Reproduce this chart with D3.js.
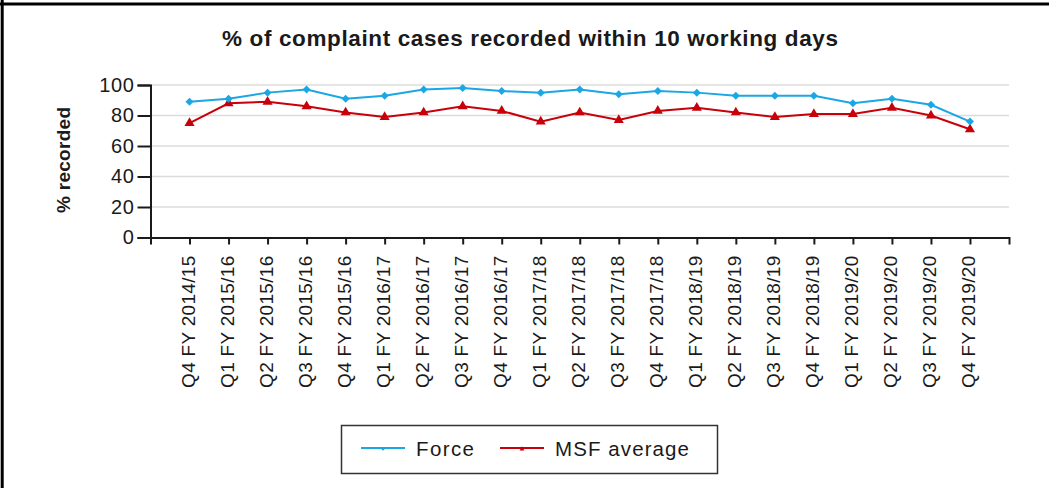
<!DOCTYPE html>
<html>
<head>
<meta charset="utf-8">
<script src="https://cdn.jsdelivr.net/npm/d3@7"></script>
<style>
  body { margin: 0; background: #fff; }
  svg text { font-family: "Liberation Sans", Arial, sans-serif; fill: #1a1a1a; }
</style>
</head>
<body>
<div class="chart"></div>
<script>
// DATA ------------------------------
const quarters = [
  "Q4 FY 2014/15", "Q1 FY 2015/16", "Q2 FY 2015/16", "Q3 FY 2015/16", "Q4 FY 2015/16",
  "Q1 FY 2016/17", "Q2 FY 2016/17", "Q3 FY 2016/17", "Q4 FY 2016/17",
  "Q1 FY 2017/18", "Q2 FY 2017/18", "Q3 FY 2017/18", "Q4 FY 2017/18",
  "Q1 FY 2018/19", "Q2 FY 2018/19", "Q3 FY 2018/19", "Q4 FY 2018/19",
  "Q1 FY 2019/20", "Q2 FY 2019/20", "Q3 FY 2019/20", "Q4 FY 2019/20"
];
const force = [89, 91, 95, 97, 91, 93, 97, 98, 96, 95, 97, 94, 96, 95, 93, 93, 93, 88, 91, 87, 76];
const msfAverage = [75, 88, 89, 86, 82, 79, 82, 86, 83, 76, 82, 77, 83, 85, 82, 79, 81, 81, 85, 80, 71];
const yTicks = [0, 20, 40, 60, 80, 100];

const series = [
  {name: "Force", values: force, color: "#1ba6e4", symbol: "diamond"},
  {name: "MSF average", values: msfAverage, color: "#c8000a", symbol: "triangle"}
];

// CHART INIT ------------------------------
const W = 1049, H = 488;
const margin = {top: 85, right: 40, bottom: 250.5, left: 150.5};
const width = W - margin.left - margin.right;
const height = H - margin.top - margin.bottom;

const root = d3.select(".chart").append("svg")
  .attr("width", W)
  .attr("height", H);

// outer frame (left and top edges visible)
root.append("line").attr("x1", 0).attr("x2", W).attr("y1", 4).attr("y2", 4)
  .attr("stroke", "#000").attr("stroke-width", 3);
root.append("line").attr("x1", 2.2).attr("x2", 2.2).attr("y1", 0).attr("y2", H)
  .attr("stroke", "#000").attr("stroke-width", 3);

// title
root.append("text")
  .attr("x", 530).attr("y", 46)
  .attr("text-anchor", "middle")
  .attr("font-size", 22.5).attr("font-weight", "bold")
  .attr("textLength", 616).attr("lengthAdjust", "spacing")
  .text("% of complaint cases recorded within 10 working days");

// y-axis title
root.append("text")
  .attr("transform", "translate(70,160) rotate(-90)")
  .attr("text-anchor", "middle")
  .attr("font-size", 19).attr("font-weight", "bold")
  .attr("textLength", 106).attr("lengthAdjust", "spacing")
  .text("% recorded");

const svg = root.append("g")
  .attr("transform", `translate(${margin.left},${margin.top})`);

const xScale = d3.scalePoint()
  .domain(quarters)
  .range([0, width])
  .padding(1);

const yScale = d3.scaleLinear()
  .domain([0, 100])
  .range([height, 0]);

// gridlines
svg.append("g")
  .selectAll("line")
  .data(yTicks.filter(d => d > 0))
  .join("line")
  .attr("x1", 0).attr("x2", width)
  .attr("y1", d => yScale(d)).attr("y2", d => yScale(d))
  .attr("stroke", "#dcdcdc").attr("stroke-width", 1.5);

// axes
const xAxis = d3.axisBottom(xScale).tickSize(7).tickSizeOuter(7).tickFormat("");
const gx = svg.append("g")
  .attr("class", "x-axis")
  .attr("transform", `translate(0, ${height})`)
  .call(xAxis);

gx.selectAll(".tick").append("text")
  .attr("transform", "translate(0,18) rotate(-90)")
  .attr("text-anchor", "end")
  .attr("dy", "0.25em")
  .attr("font-size", 19)
  .attr("letter-spacing", 0.3)
  .attr("fill", "#1a1a1a")
  .text(d => d);

const yAxis = d3.axisLeft(yScale).tickValues(yTicks).tickSize(13).tickSizeOuter(13);
const gy = svg.append("g")
  .attr("class", "y-axis")
  .call(yAxis);

gy.selectAll("text")
  .attr("font-size", 20)
  .attr("letter-spacing", 0.6)
  .attr("x", -16)
  .attr("fill", "#1a1a1a");

[gx, gy].forEach(g => {
  g.attr("font-family", null);
  g.selectAll("path, line").attr("stroke", "#1a1a1a").attr("stroke-width", 2);
});

// lines and markers
const line = d3.line()
  .x((d, i) => xScale(quarters[i]))
  .y(d => yScale(d));

const diamond = d3.symbol().type(d3.symbolSquare).size(32);
const triangle = d3.symbol().type(d3.symbolTriangle).size(44);

series.slice().reverse().forEach(s => {
  const g = svg.append("g");
  g.append("path")
    .datum(s.values)
    .attr("fill", "none")
    .attr("stroke", s.color)
    .attr("stroke-width", 2)
    .attr("d", line);
  g.selectAll("path.marker")
    .data(s.values)
    .join("path")
    .attr("class", "marker")
    .attr("fill", s.color)
    .attr("d", s.symbol === "diamond" ? diamond : triangle)
    .attr("transform", (d, i) => `translate(${xScale(quarters[i])},${yScale(d)})` + (s.symbol === "diamond" ? " rotate(45)" : ""));
});

// legend
const legend = root.append("g");
legend.append("rect")
  .attr("x", 341.5).attr("y", 425.5)
  .attr("width", 376).attr("height", 48)
  .attr("fill", "#fff")
  .attr("stroke", "#333").attr("stroke-width", 1.5);

const legendX = [361, 500];
const legendTextLen = [58, 134];
series.forEach((s, i) => {
  const x0 = legendX[i];
  legend.append("line")
    .attr("x1", x0).attr("x2", x0 + 44)
    .attr("y1", 448).attr("y2", 448)
    .attr("stroke", s.color).attr("stroke-width", 2);
  legend.append("path")
    .attr("fill", s.color)
    .attr("d", s.symbol === "diamond" ? d3.symbol().type(d3.symbolSquare).size(6) : d3.symbol().type(d3.symbolTriangle).size(10))
    .attr("transform", `translate(${x0 + 22},449)` + (s.symbol === "diamond" ? " rotate(45)" : ""));
  legend.append("text")
    .attr("x", x0 + 55).attr("y", 456)
    .attr("font-size", 20.5)
    .attr("textLength", legendTextLen[i]).attr("lengthAdjust", "spacing")
    .text(s.name);
});
</script>
</body>
</html>
